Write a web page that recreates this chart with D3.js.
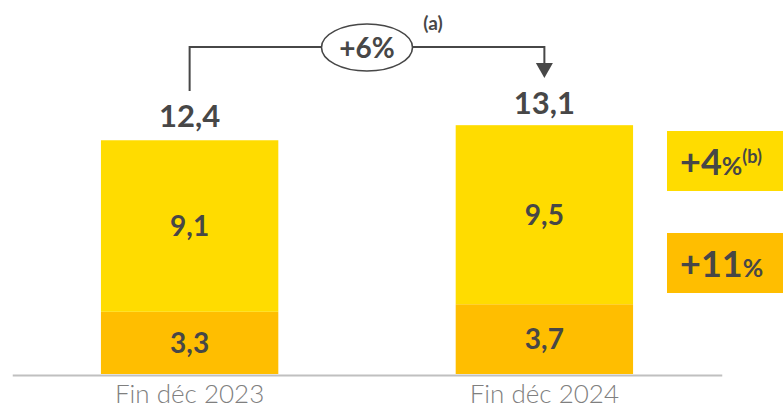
<!DOCTYPE html>
<html>
<head>
<meta charset="utf-8">
<script src="https://cdn.jsdelivr.net/npm/d3@7"></script>
<style>
  html, body { margin: 0; padding: 0; background: #fff; }
  svg { display: block; font-family: Lato, "Open Sans", sans-serif; }
</style>
</head>
<body>
<svg id="chart" width="783" height="409"></svg>
<script>
// Encours par période (bas : orange, haut : jaune)
const categories = ["Fin déc 2023", "Fin déc 2024"];
const bottomValues = [3.3, 3.7];
const topValues = [9.1, 9.5];
const totals = [12.4, 13.1];
const totalLabels = ["12,4", "13,1"];
const bottomLabels = ["3,3", "3,7"];
const topLabels = ["9,1", "9,5"];
const growthTotal = "+6%";
const growthTop = "+4";
const growthBottom = "+11";

const YELLOW = "#FFDC00";
const ORANGE = "#FFBE00";
const INK = "#474747";

const svg = d3.select("#chart");

const x = d3.scaleBand()
  .domain(categories)
  .range([12.25, 721.75])
  .paddingInner(0.5)
  .paddingOuter(0.25);

const y = d3.scaleLinear()
  .domain([0, 14])
  .range([374, 374 - 14 * 18.85]);

const rows = categories.map((c, i) => ({
  cat: c,
  bottom: bottomValues[i],
  top: topValues[i],
  total: totals[i],
  totalLabel: totalLabels[i],
  bottomLabel: bottomLabels[i],
  topLabel: topLabels[i]
}));

// Segments empilés
const bars = svg.append("g");
bars.selectAll("rect.bottom").data(rows).join("rect")
  .attr("x", d => x(d.cat))
  .attr("width", x.bandwidth())
  .attr("y", d => y(d.bottom))
  .attr("height", d => y(0) - y(d.bottom))
  .attr("fill", ORANGE);

bars.selectAll("rect.top").data(rows).join("rect")
  .attr("x", d => x(d.cat))
  .attr("width", x.bandwidth())
  .attr("y", d => y(d.bottom + d.top))
  .attr("height", d => y(d.bottom) - y(d.bottom + d.top))
  .attr("fill", YELLOW);

// Étiquettes des segments
const cx = d => x(d.cat) + x.bandwidth() / 2;
bars.selectAll("text.bl").data(rows).join("text")
  .attr("x", cx)
  .attr("y", d => (y(0) + y(d.bottom)) / 2)
  .attr("dy", "0.36em")
  .attr("text-anchor", "middle")
  .attr("font-size", 28).attr("font-weight", 700).attr("fill", INK)
  .text(d => d.bottomLabel);

bars.selectAll("text.tl").data(rows).join("text")
  .attr("x", cx)
  .attr("y", d => (y(d.bottom) + y(d.bottom + d.top)) / 2)
  .attr("dy", "0.36em")
  .attr("text-anchor", "middle")
  .attr("font-size", 28).attr("font-weight", 700).attr("fill", INK)
  .text(d => d.topLabel);

// Totaux au-dessus des barres
bars.selectAll("text.tot").data(rows).join("text")
  .attr("x", cx)
  .attr("y", d => y(d.total) - 13)
  .attr("text-anchor", "middle")
  .attr("font-size", 31).attr("font-weight", 700).attr("fill", INK)
  .text(d => d.totalLabel);

// Axe horizontal
const axis = svg.append("g")
  .attr("transform", `translate(0,${y(0) + 1})`)
  .call(d3.axisBottom(x).tickSize(0).tickPadding(10));
axis.select(".domain").attr("stroke", "#c0c0c0").attr("stroke-width", 2);
axis.selectAll(".tick text")
  .attr("font-family", "Lato, sans-serif")
  .attr("font-size", 26)
  .attr("font-weight", 300)
  .attr("fill", "#7f7f7f");

// Flèche d'évolution entre les deux totaux
const x0 = cx(rows[0]), x1 = cx(rows[1]);
const lineY = 47;
const g = svg.append("g").attr("stroke", INK).attr("stroke-width", 2).attr("fill", "none");
g.append("path")
  .attr("d", `M${x0},91 V${lineY} H${x1} V64`);
svg.append("path")
  .attr("d", `M${x1 - 8.5},63 L${x1 + 8.5},63 L${x1},78 Z`)
  .attr("fill", INK);

const ex = (x0 + x1) / 2;
svg.append("ellipse")
  .attr("cx", ex).attr("cy", lineY + 0.5)
  .attr("rx", 45.5).attr("ry", 23.5)
  .attr("fill", "#fff").attr("stroke", INK).attr("stroke-width", 1.6);
svg.append("text")
  .attr("x", ex).attr("y", lineY + 1).attr("dy", "0.36em")
  .attr("text-anchor", "middle")
  .attr("font-size", 28).attr("font-weight", 700).attr("fill", INK)
  .text(growthTotal);
svg.append("text")
  .attr("x", 433).attr("y", 30)
  .attr("text-anchor", "middle")
  .attr("font-size", 19).attr("font-weight", 700).attr("fill", INK)
  .text("(a)");

// Encadrés d'évolution par segment
const boxes = [
  { y0: 131, fill: YELLOW, num: growthTop, note: "(b)" },
  { y0: 233, fill: ORANGE, num: growthBottom, note: "" }
];
boxes.forEach(b => {
  svg.append("rect")
    .attr("x", 667).attr("y", b.y0)
    .attr("width", 120).attr("height", 60)
    .attr("fill", b.fill);
  const t = svg.append("text")
    .attr("x", 680).attr("y", b.y0 + 44)
    .attr("fill", INK).attr("font-weight", 700);
  t.append("tspan").attr("font-size", 36).text(b.num);
  t.append("tspan").attr("font-size", 25).text("%");
  if (b.note) {
    t.append("tspan").attr("font-size", 18).attr("dy", -12).text(b.note);
  }
});
</script>
</body>
</html>
